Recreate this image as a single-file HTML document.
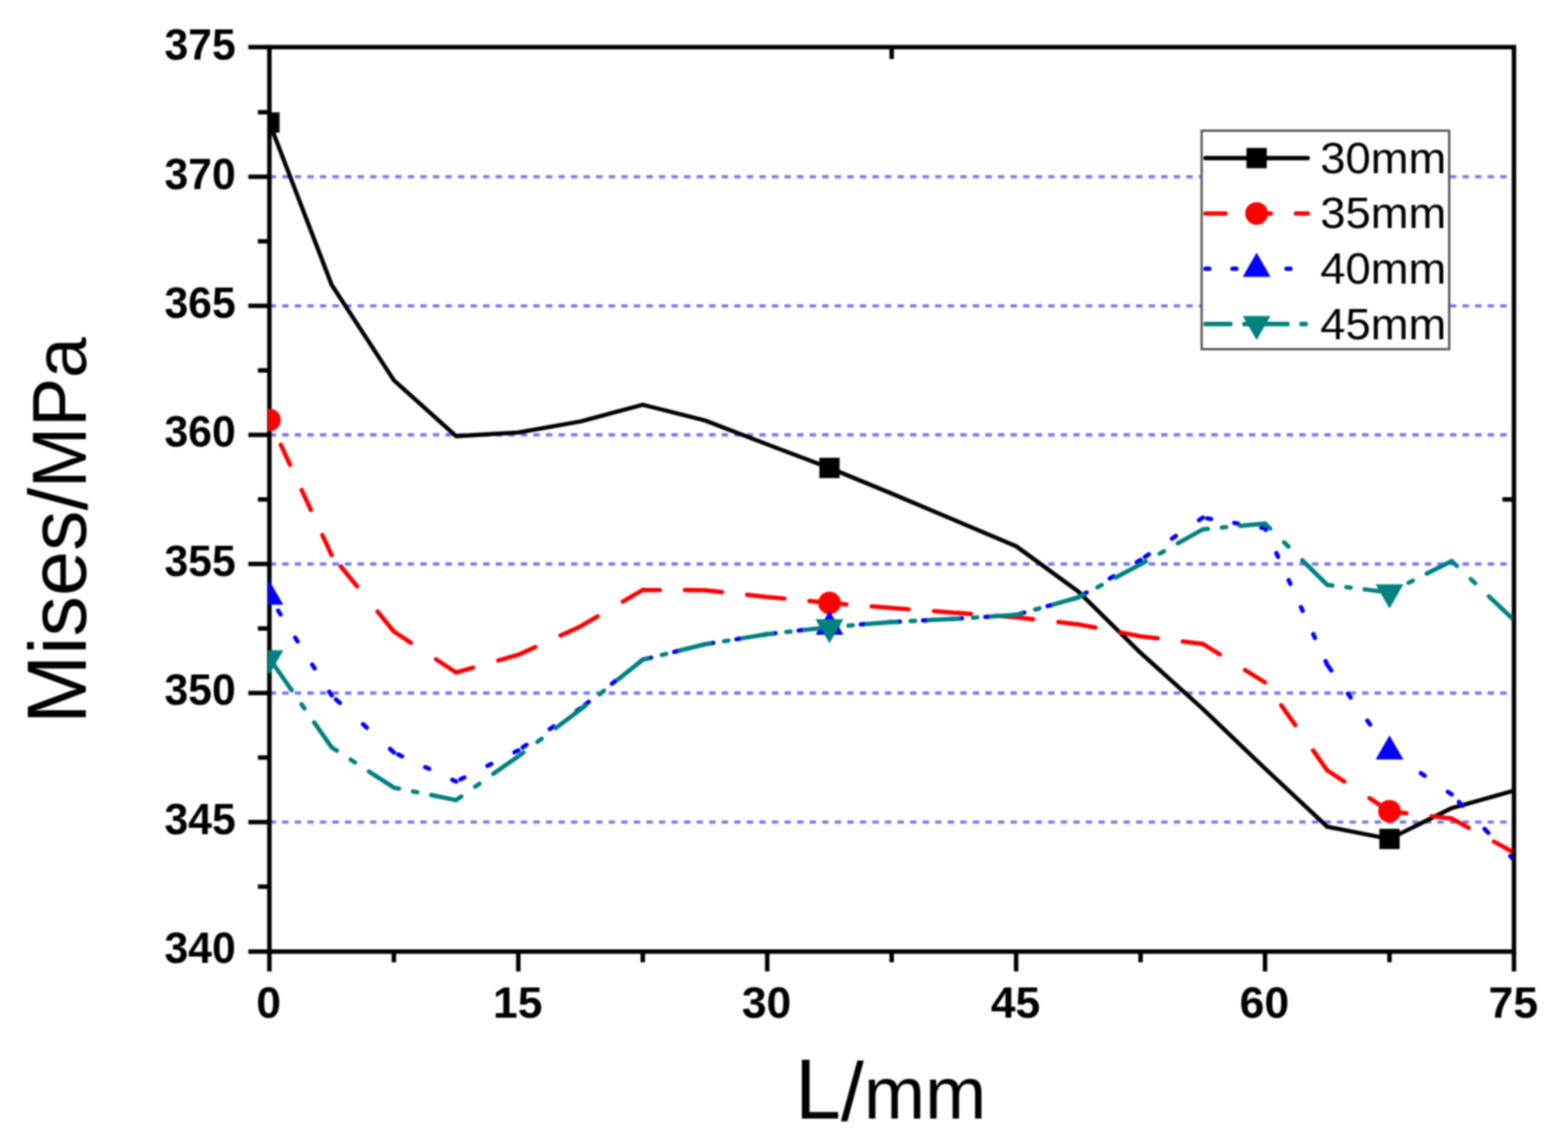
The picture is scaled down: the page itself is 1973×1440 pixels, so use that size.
<!DOCTYPE html>
<html lang="en"><head><meta charset="utf-8"><title>Mises/MPa vs L/mm</title>
<style>html,body{margin:0;padding:0;background:#fff;}body{width:1973px;height:1440px;overflow:hidden;}svg{display:block;}text{font-family:"Liberation Sans",sans-serif;fill:#000;}.tk{font-weight:bold;font-size:56px;}.lg{font-size:56px;}</style></head><body>
<svg width="1973" height="1440" viewBox="0 0 1973 1440">
<defs><clipPath id="plot"><rect x="337.2" y="57.5" width="1566" height="1138.5"/></clipPath>
<filter id="soft" filterUnits="userSpaceOnUse" x="-10" y="-10" width="1993" height="1460" color-interpolation-filters="sRGB"><feConvolveMatrix order="3" kernelMatrix="1 2 1 2 4 2 1 2 1" edgeMode="duplicate" preserveAlpha="true"/><feConvolveMatrix order="3" kernelMatrix="1 2 1 2 4 2 1 2 1" edgeMode="duplicate" preserveAlpha="true"/></filter>
<clipPath id="leg"><rect x="1513.5" y="166" width="135" height="272"/></clipPath>
</defs>
<rect x="-20" y="-20" width="2013" height="1480" fill="#ffffff"/>
<g filter="url(#soft)">
<rect x="-20" y="-20" width="2013" height="1480" fill="#ffffff"/>
<g stroke="#7676ff" stroke-width="4.1" stroke-dasharray="8 7.8" fill="none"><line x1="339.3" y1="1034.8" x2="1897" y2="1034.8"/><line x1="339.3" y1="872.34" x2="1897" y2="872.34"/><line x1="339.3" y1="709.88" x2="1897" y2="709.88"/><line x1="339.3" y1="547.42" x2="1897" y2="547.42"/><line x1="339.3" y1="384.96" x2="1897" y2="384.96"/><line x1="339.3" y1="222.5" x2="1897" y2="222.5"/></g>
<rect x="339" y="59.3" width="1566" height="1138.5" fill="none" stroke="#000" stroke-width="5.6"/>
<g stroke="#000" stroke-width="5.6" fill="none"><line x1="312.5" y1="1197.8" x2="339" y2="1197.8"/><line x1="312.5" y1="1034.8" x2="339" y2="1034.8"/><line x1="312.5" y1="872.34" x2="339" y2="872.34"/><line x1="312.5" y1="709.88" x2="339" y2="709.88"/><line x1="312.5" y1="547.42" x2="339" y2="547.42"/><line x1="312.5" y1="384.96" x2="339" y2="384.96"/><line x1="312.5" y1="222.5" x2="339" y2="222.5"/><line x1="312.5" y1="59.3" x2="339" y2="59.3"/><line x1="324.5" y1="1116.03" x2="339" y2="1116.03"/><line x1="324.5" y1="953.57" x2="339" y2="953.57"/><line x1="324.5" y1="791.11" x2="339" y2="791.11"/><line x1="324.5" y1="628.65" x2="339" y2="628.65"/><line x1="324.5" y1="466.19" x2="339" y2="466.19"/><line x1="324.5" y1="303.73" x2="339" y2="303.73"/><line x1="324.5" y1="141.27" x2="339" y2="141.27"/><line x1="339" y1="1197.8" x2="339" y2="1222.8"/><line x1="652.2" y1="1197.8" x2="652.2" y2="1222.8"/><line x1="965.4" y1="1197.8" x2="965.4" y2="1222.8"/><line x1="1278.6" y1="1197.8" x2="1278.6" y2="1222.8"/><line x1="1591.8" y1="1197.8" x2="1591.8" y2="1222.8"/><line x1="1905" y1="1197.8" x2="1905" y2="1222.8"/><line x1="495.6" y1="1197.8" x2="495.6" y2="1211.3"/><line x1="808.8" y1="1197.8" x2="808.8" y2="1211.3"/><line x1="1122" y1="1197.8" x2="1122" y2="1211.3"/><line x1="1435.2" y1="1197.8" x2="1435.2" y2="1211.3"/><line x1="1748.4" y1="1197.8" x2="1748.4" y2="1211.3"/><line x1="1905" y1="628.65" x2="1890.5" y2="628.65"/><line x1="1122" y1="59.3" x2="1122" y2="74.3"/></g>
<g clip-path="url(#plot)">
<path d="M339 154.2L417.3 358.5L495.6 478.6L573.9 549L652.2 544.4L730.5 530.5L808.8 509.5L887.1 529.2L965.4 559.4L1043.7 589L1122 621.3L1200.3 654.4L1278.6 687.5L1356.9 744.6L1435.2 821.8L1513.5 892.4L1591.8 967.3L1670.1 1040.7L1748.4 1056L1826.7 1017.2L1905 995.2" fill="none" stroke="#000000" stroke-width="5.3" stroke-linejoin="round"/>
<rect x="326.25" y="141.45" width="25.5" height="25.5" fill="#000000"/>
<rect x="1030.95" y="576.25" width="25.5" height="25.5" fill="#000000"/>
<rect x="1735.65" y="1043.25" width="25.5" height="25.5" fill="#000000"/>
<path d="M417.3 698.8L405.7 673.6M391.11 641.9L379.51 616.7M364.92 585L353.32 559.8M495.6 795L475.09 769.8M449.29 738.1L428.78 712.9M573.9 846.5L548.7 829.93M517 809.08L495.6 795M652.2 824.2L627 831.38M595.3 840.41L573.9 846.5M730.5 788.4L705.3 799.92M673.6 814.42L652.2 824.2M808.8 742.5L783.6 757.27M751.9 775.86L730.5 788.4M887.1 743L861.9 742.84M830.2 742.64L808.8 742.5M965.4 751.4L940.2 748.7M908.5 745.3L887.1 743M1043.7 759L1018.5 756.55M986.8 753.48L965.4 751.4M1122 765.3L1096.8 763.27M1065.1 760.72L1043.7 759M1200.3 771.2L1175.1 769.3M1143.4 766.91L1122 765.3M1278.6 777L1253.4 775.13M1221.7 772.79L1200.3 771.2M1356.9 785.9L1331.7 783.04M1300 779.43L1278.6 777M1435.2 801L1410 796.14M1378.3 790.03L1356.9 785.9M1513.5 810.5L1488.3 807.44M1456.6 803.6L1435.2 801M1591.8 859L1566.6 843.39M1534.9 823.76L1513.5 810.5M1670.1 969.8L1652.29 944.6M1629.89 912.9L1612.08 887.7M1748.4 1021.2L1723.2 1004.66M1691.5 983.85L1670.1 969.8M1826.7 1030.3L1801.5 1027.37M1769.8 1023.69L1748.4 1021.2M1905 1073.3L1879.8 1059.46M1848.1 1042.05L1826.7 1030.3" fill="none" stroke="#ff0000" stroke-width="5.5" stroke-linecap="round" stroke-linejoin="round"/>
<circle cx="339" cy="528.7" r="14.3" fill="#ff0000"/>
<circle cx="1043.7" cy="759" r="14.3" fill="#ff0000"/>
<circle cx="1748.4" cy="1021.2" r="14.3" fill="#ff0000"/>
<path d="M417.3 875.4L414.28 870.6M395.88 841.4L392.86 836.6M374.46 807.4L371.44 802.6M353.05 773.4L350.02 768.6M495.6 947.1L490.8 942.7M461.6 915.97L456.8 911.57M427.6 884.83L422.8 880.44M573.9 983.8L569.1 981.55M539.9 967.86L535.1 965.61M505.9 951.93L501.1 949.68M652.2 944.5L647.4 946.91M618.2 961.57L613.4 963.97M584.2 978.63L579.4 981.04M730.5 891.5L725.7 894.75M696.5 914.51L691.7 917.76M662.5 937.53L657.7 940.78M808.8 830.4L804 834.15M774.8 856.93L770 860.68M740.8 883.46L736 887.21M887.1 811L882.3 812.19M853.1 819.42L848.3 820.61M819.1 827.85L814.3 829.04M965.4 798.3L960.6 799.08M931.4 803.81L926.6 804.59M897.4 809.33L892.6 810.11M1043.7 789L1038.9 789.57M1009.7 793.04L1004.9 793.61M975.7 797.08L970.9 797.65M1122 783L1117.2 783.37M1088 785.61L1083.2 785.97M1054 788.21L1049.2 788.58M1200.3 779L1195.5 779.25M1166.3 780.74L1161.5 780.98M1132.3 782.47L1127.5 782.72M1278.6 774L1273.8 774.31M1244.6 776.17L1239.8 776.48M1210.6 778.34L1205.8 778.65M1356.9 752L1352.1 753.35M1322.9 761.55L1318.1 762.9M1288.9 771.11L1284.1 772.45M1435.2 704.8L1430.4 707.69M1401.2 725.3L1396.4 728.19M1367.2 745.79L1362.4 748.68M1513.5 651.5L1508.7 654.77M1479.5 674.64L1474.7 677.91M1445.5 697.79L1440.7 701.06M1591.8 665L1587 664.17M1557.8 659.14L1553 658.31M1523.8 653.28L1519 652.45M1670.1 837L1667.91 832.2M1654.62 803L1652.44 798.2M1639.14 769L1636.96 764.2M1623.67 735L1621.48 730.2M1608.19 701L1606 696.2M1592.71 667L1591.8 665M1748.4 946L1744.95 941.2M1723.98 912L1720.53 907.2M1699.55 878L1696.1 873.2M1675.13 844L1671.68 839.2M1826.7 1000L1821.9 996.69M1792.7 976.55L1787.9 973.24M1758.7 953.1L1753.9 949.79M1905 1082.3L1900.43 1077.5M1872.65 1048.3L1868.09 1043.5M1840.3 1014.3L1835.74 1009.5" fill="none" stroke="#0000ff" stroke-width="5.5" stroke-linecap="round" stroke-linejoin="round"/>
<polygon points="339,730.89 321.5,761.2 356.5,761.2" fill="#0000ff"/>
<polygon points="1043.7,768.79 1026.2,799.1 1061.2,799.1" fill="#0000ff"/>
<polygon points="1748.4,925.79 1730.9,956.1 1765.9,956.1" fill="#0000ff"/>
<path d="M417.3 940.7L395.35 909.3M383.11 891.8L379.34 886.4M367.1 868.9L345.15 837.5M495.6 991.4L464.2 971.07M446.7 959.74L441.3 956.24M423.8 944.91L417.3 940.7M573.9 1007.1L542.5 1000.8M525 997.3L519.6 996.21M502.1 992.7L495.6 991.4M652.2 952L620.8 974.1M603.3 986.41L597.9 990.21M580.4 1002.53L573.9 1007.1M730.5 893L699.1 916.66M681.6 929.85L676.2 933.92M658.7 947.1L652.2 952M808.8 830.4L777.4 855.5M759.9 869.5L754.5 873.81M737 887.8L730.5 893M887.1 811L855.7 818.78M838.2 823.12L832.8 824.45M815.3 828.79L808.8 830.4M965.4 798.3L934 803.39M916.5 806.23L911.1 807.11M893.6 809.95L887.1 811M1043.7 789.5L1012.3 793.03M994.8 795L989.4 795.6M971.9 797.57L965.4 798.3M1122 783L1090.6 785.61M1073.1 787.06L1067.7 787.51M1050.2 788.96L1043.7 789.5M1200.3 779L1168.9 780.6M1151.4 781.5L1146 781.77M1128.5 782.67L1122 783M1278.6 774L1247.2 776.01M1229.7 777.12L1224.3 777.47M1206.8 778.58L1200.3 779M1356.9 752L1325.5 760.82M1308 765.74L1302.6 767.26M1285.1 772.17L1278.6 774M1435.2 710.3L1403.8 727.02M1386.3 736.34L1380.9 739.22M1363.4 748.54L1356.9 752M1513.5 666.3L1482.1 683.94M1464.6 693.78L1459.2 696.81M1441.7 706.65L1435.2 710.3M1591.8 659L1560.4 661.93M1542.9 663.56L1537.5 664.06M1520 665.69L1513.5 666.3M1670.1 736.2L1638.7 705.24M1621.2 687.99L1615.8 682.66M1598.3 665.41L1591.8 659M1748.4 745.7L1717 741.89M1699.5 739.77L1694.1 739.11M1676.6 736.99L1670.1 736.2M1826.7 706.2L1795.3 722.04M1777.8 730.87L1772.4 733.59M1754.9 742.42L1748.4 745.7M1905 780.5L1873.6 750.7M1856.1 734.1L1850.7 728.97M1833.2 712.37L1826.7 706.2" fill="none" stroke="#008080" stroke-width="5.5" stroke-linecap="round" stroke-linejoin="round"/>
<polygon points="339,848.91 321.5,818.6 356.5,818.6" fill="#008080"/>
<polygon points="1043.7,809.71 1026.2,779.4 1061.2,779.4" fill="#008080"/>
<polygon points="1748.4,765.91 1730.9,735.6 1765.9,735.6" fill="#008080"/>
</g>
<text class="tk" transform="translate(296.6 1212.2) scale(0.96 1)" text-anchor="end">340</text>
<text class="tk" transform="translate(296.6 1049.8) scale(0.96 1)" text-anchor="end">345</text>
<text class="tk" transform="translate(296.6 887.34) scale(0.96 1)" text-anchor="end">350</text>
<text class="tk" transform="translate(296.6 724.88) scale(0.96 1)" text-anchor="end">355</text>
<text class="tk" transform="translate(296.6 562.42) scale(0.96 1)" text-anchor="end">360</text>
<text class="tk" transform="translate(296.6 399.96) scale(0.96 1)" text-anchor="end">365</text>
<text class="tk" transform="translate(296.6 237.5) scale(0.96 1)" text-anchor="end">370</text>
<text class="tk" transform="translate(296.6 75) scale(0.96 1)" text-anchor="end">375</text>
<text class="tk" transform="translate(338.2 1280.7) scale(1 1)" text-anchor="middle">0</text>
<text class="tk" transform="translate(651.4 1280.7) scale(1 1)" text-anchor="middle">15</text>
<text class="tk" transform="translate(964.6 1280.7) scale(1 1)" text-anchor="middle">30</text>
<text class="tk" transform="translate(1277.8 1280.7) scale(1 1)" text-anchor="middle">45</text>
<text class="tk" transform="translate(1591 1280.7) scale(1 1)" text-anchor="middle">60</text>
<text class="tk" transform="translate(1904.2 1280.7) scale(1 1)" text-anchor="middle">75</text>
<text x="1000.4" y="1407.6" style="font-size:107.5px"><tspan textLength="57.6" lengthAdjust="spacingAndGlyphs">L</tspan><tspan dy="2.6" style="font-size:104px">/</tspan><tspan dy="-2.6" style="font-size:92.5px">mm</tspan></text>
<text transform="translate(107.6 911.2) rotate(-90)" style="font-size:106.5px"><tspan textLength="87.2" lengthAdjust="spacingAndGlyphs">M</tspan><tspan style="font-size:102px">ises</tspan><tspan dy="1.6" style="font-size:103.5px" textLength="28.4" lengthAdjust="spacingAndGlyphs">/</tspan><tspan dy="-1.6" style="font-size:96px" textLength="138.5" lengthAdjust="spacingAndGlyphs">MP</tspan><tspan style="font-size:92px">a</tspan></text>
<rect x="1512" y="164.5" width="311.5" height="275" fill="#fff" stroke="#525252" stroke-width="2.8"/>
<g clip-path="url(#leg)">
<line x1="1516.9" y1="199" x2="1645.6" y2="199" stroke="#000000" stroke-width="5.6" stroke-linecap="round"/>
<rect x="1568.45" y="186.25" width="25.5" height="25.5" fill="#000000"/>
<line x1="1516.9" y1="268.7" x2="1645.6" y2="268.7" stroke="#ff0000" stroke-width="5.6" stroke-linecap="round" stroke-dasharray="25.2 31.7"/>
<circle cx="1581.2" cy="268.7" r="14.3" fill="#ff0000"/>
<line x1="1516.9" y1="338.3" x2="1645.6" y2="338.3" stroke="#0000ff" stroke-width="5.6" stroke-linecap="round" stroke-dasharray="4.8 29.2"/>
<polygon points="1581.2,318.09 1563.7,348.4 1598.7,348.4" fill="#0000ff"/>
<line x1="1516.9" y1="407.9" x2="1645.6" y2="407.9" stroke="#008080" stroke-width="5.6" stroke-linecap="round" stroke-dasharray="31.4 17.5 5.4 17.5"/>
<polygon points="1581.2,428.11 1563.7,397.8 1598.7,397.8" fill="#008080"/>
</g>
<text class="lg" transform="translate(1661.2 217.6) scale(1.02 1)">30mm</text>
<text class="lg" transform="translate(1661.2 287.2) scale(1.02 1)">35mm</text>
<text class="lg" transform="translate(1661.2 356.8) scale(1.02 1)">40mm</text>
<text class="lg" transform="translate(1661.2 426.6) scale(1.02 1)">45mm</text>
</g>
</svg></body></html>
